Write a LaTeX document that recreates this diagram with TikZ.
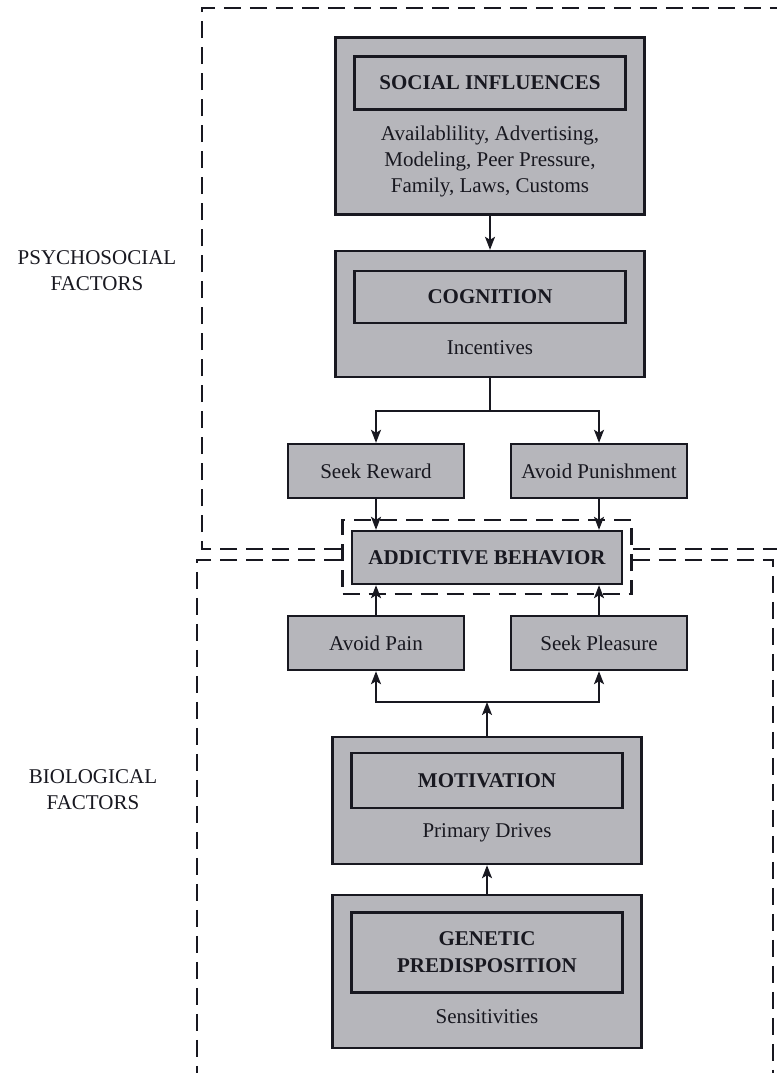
\documentclass[tikz,border=0pt]{standalone}
\usepackage{fontspec}
\setmainfont{Liberation Serif}
\usetikzlibrary{arrows.meta,positioning}

\definecolor{boxgray}{RGB}{182,182,187}
\definecolor{inkdark}{RGB}{24,24,32}
\newcommand{\diagfont}{\fontsize{21}{26}\selectfont}

\tikzset{
  outerbox/.style={draw=inkdark, fill=boxgray, line width=2.4pt, minimum width=309pt, inner sep=0pt},
  titlebox/.style={draw=inkdark, line width=2.4pt, minimum width=271pt, inner sep=0pt, align=center, font=\diagfont\bfseries},
  smallbox/.style={draw=inkdark, fill=boxgray, line width=2.4pt, minimum width=176pt, minimum height=54pt, inner sep=0pt},
  bodytext/.style={inner sep=0pt, align=center},
  region/.style={inkdark, line width=2.8pt, dash pattern=on 17pt off 9pt},
  flow/.style={inkdark, line width=1.8pt, -{Stealth[length=13pt,width=10pt,inset=3pt]}},
}

\begin{document}
\begin{tikzpicture}[x=1pt, y=-1pt, font=\diagfont, text=inkdark]
\useasboundingbox (0,0) rectangle (776,1073);

% side labels
\node [bodytext] (psylabel) at (97,271) {PSYCHOSOCIAL\\FACTORS};
\node [bodytext] (biolabel) at (93,790) {BIOLOGICAL\\FACTORS};

% psychosocial column
\node [outerbox, minimum height=177pt] (social) at (490,126) {};
\node [titlebox, minimum height=53pt] (socialtitle) at (490,83) {SOCIAL INFLUENCES};
\node [bodytext] (socialbody) at (490,161) {Availablility, Advertising,\\Modeling, Peer Pressure,\\Family, Laws, Customs};

\node [outerbox, minimum height=126pt] (cognition) at (490,314) {};
\node [titlebox, minimum height=52pt] (cognitiontitle) at (490,297) {COGNITION};
\node [bodytext] (cognitionbody) at (490,348) {Incentives};

\coordinate (split) at (490,411);
\node [smallbox] (reward) at (376,471) {Seek Reward};
\node [smallbox] (punish) at (599,471) {Avoid Punishment};

% centre
\node [draw=inkdark, line width=2.8pt, dash pattern=on 17pt off 9pt, minimum width=289pt, minimum height=74pt] (frame) at (487,557) {};
\node [smallbox, minimum width=270pt, minimum height=53pt, font=\diagfont\bfseries] (addictive) at (487,557.5) {ADDICTIVE BEHAVIOR};

% biological column
\node [smallbox] (pain) at (376,643) {Avoid Pain};
\node [smallbox] (pleasure) at (599,643) {Seek Pleasure};
\coordinate (join) at (487,702);

\node [outerbox, minimum height=127pt] (motivation) at (487,800.5) {};
\node [titlebox, minimum height=55pt] (motivationtitle) at (487,780.7) {MOTIVATION};
\node [bodytext] (motivationbody) at (487,833) {Primary Drives};

\node [outerbox, minimum height=153pt] (genetic) at (487,971.5) {};
\node [titlebox, minimum height=80pt] (genetictitle) at (487,952.5) {GENETIC\\[1pt]PREDISPOSITION};
\node [bodytext] (geneticbody) at (487,1017) {Sensitivities};

% regions
\draw [region] (frame.west |- 0,549) -- (202,549) -- (202,8) -- (790,8);
\draw [region] (frame.east |- 0,549) -- (790,549);
\draw [region] (frame.west |- 0,560) -- (197,560) -- (197,1090);
\draw [region] (frame.east |- 0,560) -- (773,560) -- (773,1090);

% arrows
\draw [flow] (social) -- (cognition);
\draw [inkdark, line width=1.8pt] (cognition.south) -- (split);
\draw [flow] (split) -| (reward.north);
\draw [flow] (split) -| (punish.north);
\draw [flow] (reward.south) -- (reward.south |- addictive.north);
\draw [flow] (punish.south) -- (punish.south |- addictive.north);

\draw [flow] (pain.north) -- (pain.north |- addictive.south);
\draw [flow] (pleasure.north) -- (pleasure.north |- addictive.south);
\draw [flow] (join) -| (pain.south);
\draw [flow] (join) -| (pleasure.south);
\draw [flow] (motivation.north) -- (join);
\draw [flow] (genetic.north) -- (motivation.south);

\end{tikzpicture}
\end{document}
